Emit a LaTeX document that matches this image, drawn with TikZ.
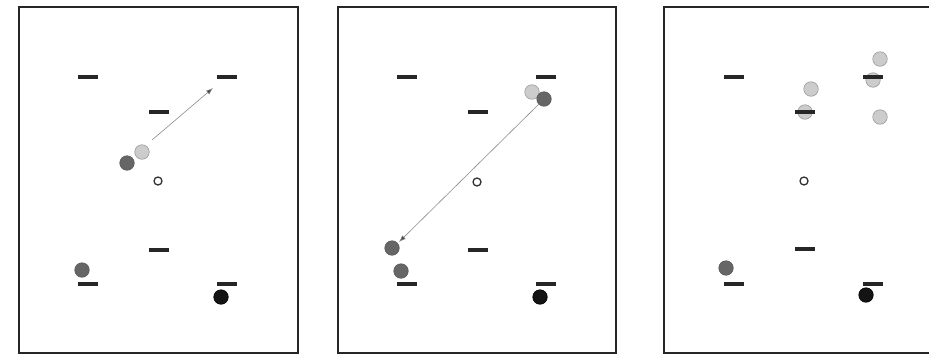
\documentclass[tikz,border=0pt]{standalone}
\usetikzlibrary{arrows.meta}
\begin{document}
\begin{tikzpicture}[x=1pt,y=-1pt,
  frame/.style={draw=black!85,line width=2.6pt},
  bar/.style={draw=black!85,line width=3.4pt},
  light/.style={circle,fill=black!20,draw=black!40,line width=0.6pt,minimum size=14.5pt,inner sep=0pt},
  darkc/.style={circle,fill=black!60,draw=black!65,line width=0.6pt,minimum size=14.5pt,inner sep=0pt},
  blackc/.style={circle,fill=black!92,draw=black,line width=0.6pt,minimum size=14.5pt,inner sep=0pt},
  whitec/.style={circle,fill=white,draw=black!80,line width=1.3pt,minimum size=8pt,inner sep=0pt},
  move/.style={draw=black!45,line width=0.6pt,-{Latex[length=7pt,width=5pt,fill=black!75]}}]
\useasboundingbox (0,0) rectangle (929,354);
\fill[white] (0,0) rectangle (929,354);
% frames
\draw[frame] (19,7) rectangle (298,353);
\draw[frame] (338,7) rectangle (616,353);
\draw[frame] (664,7) rectangle (940,353);
% bars
\foreach \ox in {0,319}{
  \draw[bar] (78+\ox,77) -- (98+\ox,77);
  \draw[bar] (217+\ox,77) -- (237+\ox,77);
  \draw[bar] (149+\ox,112) -- (169+\ox,112);
  \draw[bar] (149+\ox,250) -- (169+\ox,250);
  \draw[bar] (78+\ox,284) -- (98+\ox,284);
  \draw[bar] (217+\ox,284) -- (237+\ox,284);
}
% panel 1
\node[whitec] (w1) at (158,181) {};
\node[light] (l1) at (142,152) {};
\node[darkc] (d1) at (127,163) {};
\node[darkc] (d1b) at (82,270) {};
\node[blackc] (k1) at (221,297) {};
\coordinate (s1) at (152,140);
\coordinate (t1) at (213,88);
\draw[move] (s1) -- (t1);
% panel 2
\node[whitec] (w2) at (477,182) {};
\node[light] (l2) at (532,92) {};
\node[darkc] (d2) at (544,99) {};
\node[darkc] (d2a) at (392,248) {};
\node[darkc] (d2b) at (401,271) {};
\node[blackc] (k2) at (540,297) {};
\coordinate (s2) at (539,104);
\coordinate (t2) at (399,242);
\draw[move] (s2) -- (t2);
% panel 3
\draw[bar] (724,77) -- (744,77);
\draw[bar] (795,249) -- (815,249);
\draw[bar] (724,284) -- (744,284);
\draw[bar] (863,284) -- (883,284);
\node[whitec] (w3) at (804,181) {};
\node[light] (l3a) at (880,59) {};
\node[light] (l3b) at (873,80) {};
\node[light] (l3c) at (811,89) {};
\node[light] (l3d) at (805,112) {};
\node[light] (l3e) at (880,117) {};
\draw[bar] (863,77) -- (883,77);
\draw[bar] (795,112) -- (815,112);
\node[darkc] (d3) at (726,268) {};
\node[blackc] (k3) at (866,295) {};
\end{tikzpicture}
\end{document}
